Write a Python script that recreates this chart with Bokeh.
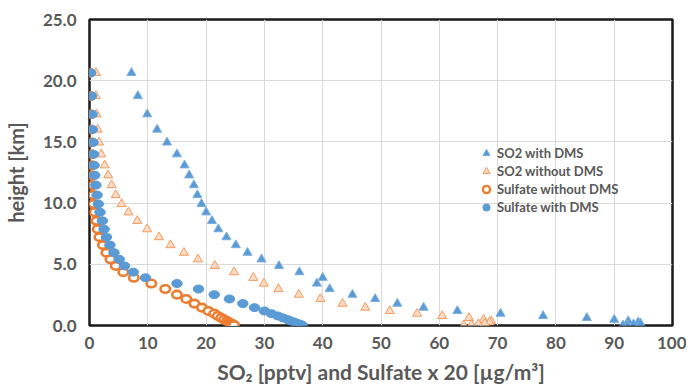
from bokeh.plotting import figure
from bokeh.models import ColumnDataSource, Legend, LegendItem, FixedTicker, Range1d, NumeralTickFormatter
from bokeh.embed import file_html
from bokeh.resources import INLINE

# model levels (km)
height = [20.64, 18.75, 17.26, 16.01, 14.96, 13.99, 13.09, 12.27, 11.47, 10.66,
          9.93, 9.25, 8.55, 7.87, 7.22, 6.57, 5.95, 5.41, 4.87, 4.36,
          3.90, 3.43, 2.98, 2.52, 2.17, 1.79, 1.46, 1.19, 0.97, 0.78,
          0.62, 0.48, 0.36, 0.26, 0.18, 0.11, 0.06, 0.02]

so2_with_dms = [7.2, 8.3, 9.9, 11.6, 13.3, 15.0, 16.3, 17.1, 17.9, 18.5,
                19.2, 20.0, 21.0, 22.1, 23.5, 25.1, 27.1, 29.5, 32.5, 36.0,
                40.0, 39.0, 41.2, 45.1, 49.0, 52.8, 57.3, 63.1, 70.5, 77.8,
                85.3, 90.0, 92.4, 94.1, 94.5, 93.3, 92.2, 91.5]

so2_without_dms = [1.1, 1.1, 1.2, 1.4, 1.65, 2.0, 2.6, 3.2, 3.8, 4.5,
                   5.5, 6.7, 8.2, 9.9, 11.9, 13.9, 16.2, 18.6, 21.5, 24.8,
                   28.1, 29.9, 32.4, 35.9, 39.6, 43.4, 47.3, 51.5, 56.2, 60.5,
                   65.1, 67.6, 68.9, 68.6, 67.8, 66.7, 65.5, 64.2]

sulfate_without_dms = [0.05, 0.1, 0.15, 0.2, 0.25, 0.3, 0.35, 0.4, 0.5, 0.6,
                       0.7, 0.9, 1.2, 1.4, 1.7, 2.3, 2.9, 3.6, 4.5, 5.8,
                       7.6, 10.6, 13.0, 15.0, 16.6, 18.0, 19.3, 20.4, 21.4, 22.0,
                       22.6, 23.1, 23.6, 23.9, 24.2, 24.5, 24.7, 24.8]

sulfate_with_dms = [0.2, 0.35, 0.45, 0.5, 0.6, 0.7, 0.8, 0.9, 1.1, 1.3,
                    1.5, 1.8, 2.2, 2.5, 2.9, 3.5, 4.2, 5.1, 6.0, 7.5,
                    9.6, 15.0, 18.7, 21.4, 24.0, 26.3, 28.3, 30.0, 31.2, 32.3,
                    33.2, 34.0, 34.6, 35.2, 35.6, 36.0, 36.3, 36.5]

labels = ["SO2 with DMS", "SO2 without DMS", "Sulfate without DMS", "Sulfate with DMS"]
x_ticks = [0, 10, 20, 30, 40, 50, 60, 70, 80, 90, 100]
y_ticks = [0, 5, 10, 15, 20, 25]

BLUE = "#5b9bd5"
ORANGE = "#ed7d31"
GRAY = "#595959"
FONT = "Lato"

src = ColumnDataSource(dict(h=height, a=so2_with_dms, b=so2_without_dms,
                            c=sulfate_without_dms, d=sulfate_with_dms))

p = figure(width=686, height=386, output_backend="svg", toolbar_location=None,
           x_range=Range1d(0, 100), y_range=Range1d(0, 25),
           min_border_left=85, min_border_right=14, min_border_top=19, min_border_bottom=59)

p.background_fill_color = "white"
p.border_fill_color = "white"
p.outline_line_color = "#1a1a1a"
p.outline_line_width = 2.5

r1 = p.scatter("a", "h", source=src, marker="triangle", size=9,
               fill_color=BLUE, line_color="#7aaee0", line_width=1)
r2 = p.scatter("b", "h", source=src, marker="triangle", size=9,
               fill_color="#fcdcc6", line_color="#f29a5c", line_width=1,
               hatch_pattern="crosshatch", hatch_color="#f4a46a", hatch_scale=3, hatch_weight=0.8)
p.ellipse("c", "h", source=src, width=9.5, height=7.5, width_units="screen", height_units="screen",
          fill_color="white", line_color=ORANGE, line_width=2.6)
p.ellipse("d", "h", source=src, width=10.5, height=8, width_units="screen", height_units="screen",
          fill_color=BLUE, line_color=BLUE, line_width=1)

# legend proxies (hidden) for the sulfate series
r3 = p.scatter("c", "h", source=src, marker="circle", fill_color="white",
               line_color=ORANGE, line_width=2.4, visible=False)
r4 = p.scatter("d", "h", source=src, marker="circle", fill_color=BLUE,
               line_color=BLUE, visible=False)

legend = Legend(items=[LegendItem(label=labels[0], renderers=[r1]),
                       LegendItem(label=labels[1], renderers=[r2]),
                       LegendItem(label=labels[2], renderers=[r3]),
                       LegendItem(label=labels[3], renderers=[r4])],
                location=(387, 109), orientation="vertical",
                glyph_width=20, glyph_height=18, label_height=18, spacing=0,
                label_standoff=1, padding=0, margin=0,
                label_text_font=FONT, label_text_font_style="bold",
                label_text_font_size="13px", label_text_color=GRAY,
                background_fill_alpha=0, border_line_color=None)
p.add_layout(legend, "center")

for ax in (p.xaxis, p.yaxis):
    ax.axis_line_color = None
    ax.major_tick_line_color = None
    ax.minor_tick_line_color = None
    ax.major_label_text_font = FONT
    ax.major_label_text_font_style = "bold"
    ax.major_label_text_font_size = "17px"
    ax.major_label_text_color = GRAY
    ax.axis_label_text_font = FONT
    ax.axis_label_text_font_style = "bold"
    ax.axis_label_text_color = GRAY

p.xaxis.ticker = FixedTicker(ticks=x_ticks)
p.yaxis.ticker = FixedTicker(ticks=y_ticks)
p.yaxis.formatter = NumeralTickFormatter(format="0.0")
p.xaxis.major_label_standoff = 5
p.yaxis.major_label_standoff = 7
p.xaxis.axis_label = "SO\u2082 [pptv] and Sulfate x 20 [\u00b5g/m\u00b3]"
p.yaxis.axis_label = "height [km]"
p.xaxis.axis_label_text_font_size = "21px"
p.yaxis.axis_label_text_font_size = "20px"
p.xaxis.axis_label_standoff = 7
p.yaxis.axis_label_standoff = 12

p.xgrid.ticker = FixedTicker(ticks=x_ticks)
p.ygrid.ticker = FixedTicker(ticks=y_ticks)
p.xgrid.grid_line_color = "#d9d9d9"
p.ygrid.grid_line_color = "#d9d9d9"
p.xgrid.grid_line_width = 1
p.ygrid.grid_line_width = 1

open("out.html", "w").write(file_html(p, INLINE))
